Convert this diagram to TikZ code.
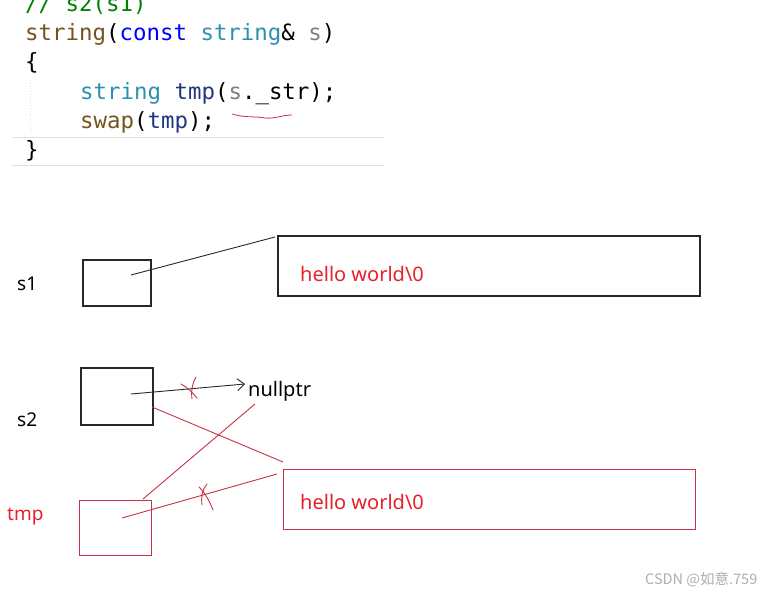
\documentclass[tikz,border=0pt]{standalone}
\usepackage{fontspec}
\setmainfont{Noto Sans}
\setmonofont{DejaVu Sans Mono}
\newfontfamily\cjk{Noto Sans CJK SC}
\usetikzlibrary{arrows.meta,calc}
\definecolor{cgreen}{RGB}{0,128,0}
\definecolor{cbrown}{RGB}{116,83,31}
\definecolor{cblue}{RGB}{0,0,255}
\definecolor{cteal}{RGB}{43,145,175}
\definecolor{cgray}{RGB}{128,128,128}
\definecolor{cvar}{RGB}{31,55,127}
\definecolor{penred}{RGB}{200,50,70}
\definecolor{txtred}{RGB}{232,32,42}
\definecolor{penblack}{RGB}{40,40,40}
\definecolor{guide}{RGB}{225,225,225}
\tikzset{
  code/.style={anchor=base west, inner sep=0pt, font=\ttfamily\fontsize{22.4}{24}\selectfont},
  lbl/.style={anchor=base west, inner sep=0pt, font=\fontsize{19}{22}\selectfont},
  hello/.style={anchor=base west, inner sep=0pt, text=txtred, font=\fontsize{20}{22}\selectfont},
  blackbox/.style={draw=penblack, line width=1.1pt, inner sep=0pt},
  redbox/.style={draw=penred, line width=1pt, inner sep=0pt},
  blackline/.style={draw=penblack, line width=0.9pt},
  redline/.style={draw=penred, line width=0.9pt},
  xmark/.style={draw=penred, line width=0.9pt, line cap=round},
}
\begin{document}
\begin{tikzpicture}[x=1pt,y=-1pt]
\useasboundingbox[fill=white] (0,0) rectangle (766,592);
% code
\node[code, text=cgreen] (cmt) at (25,11) {// s2(s1)};
\node[code] (l1) at (25,40) {\textcolor{cbrown}{string}(\textcolor{cblue}{const} \textcolor{cteal}{string}\& \textcolor{cgray}{s})};
\node[code] (l2) at (25,69) {\{};
\node[code] (l3) at (80,99) {\textcolor{cteal}{string} \textcolor{cvar}{tmp}(\textcolor{cgray}{s}.\_str);};
\node[code] (l4) at (80,128) {\textcolor{cbrown}{swap}(\textcolor{cvar}{tmp});};
\node[code] (l5) at (25,157) {\}};
\draw[guide, line width=1pt] (12,137) -- (384,137);
\draw[guide, line width=1pt] (12,165) -- (384,165);
\draw[guide, line width=0.8pt, dotted] (30,80) -- (30,135);
\draw[penred, line width=0.8pt] (232,114) .. controls (245,118) and (255,116) .. (265,118) .. controls (275,119) and (282,115) .. (292,115);
% labels
\node[lbl] (s1l) at (17,290) {s1};
\node[lbl] (s2l) at (17,426) {s2};
\node[lbl, text=txtred] (tmpl) at (7,520) {tmp};
% boxes
\node[blackbox, minimum width=68pt, minimum height=46pt] (s1box) at (117,283) {};
\node[blackbox, minimum width=72pt, minimum height=57pt] (s2box) at (117,396.5) {};
\node[redbox, minimum width=72pt, minimum height=55pt] (tmpbox) at (115,527.5) {};
\node[blackbox, minimum width=422pt, minimum height=60pt] (h1box) at (489,266) {};
\node[redbox, minimum width=412pt, minimum height=60pt] (h2box) at (489,499) {};
\node[hello] (h1) at (300,281) {hello world\textbackslash 0};
\node[hello] (h2) at (300,509) {hello world\textbackslash 0};
\node[anchor=base west, inner sep=0pt, font=\fontsize{20}{22}\selectfont] (np) at (248,396) {nullptr};
% anchor points
\coordinate (s1p) at (131,275);
\coordinate (h1p) at (275,237);
\coordinate (s2p) at (131,394);
\coordinate (npp) at (245,384);
\coordinate (s2r) at (152,407);
\coordinate (h2p) at (283,462);
\coordinate (tmpt) at (143,499);
\coordinate (npb) at (255,404);
\coordinate (tmpp) at (122,518);
\coordinate (h2q) at (277,474);
% connectors
\draw[blackline] (s1p) -- (h1p);
\draw[blackline, -{Straight Barb[length=7pt,width=12pt]}] (s2p) -- (npp);
\draw[redline] (s2r) -- (h2p);
\draw[redline] (tmpt) -- (npb);
\draw[redline] (tmpp) -- (h2q);
% cross marks
\draw[xmark] (181,384) .. controls (188,388) and (192,392) .. (197,398);
\draw[xmark] (196,377) .. controls (192,384) and (191,391) .. (192,399);
\draw[xmark] (199,487) .. controls (205,493) and (209,500) .. (213,510);
\draw[xmark] (207,484) .. controls (202,490) and (201,497) .. (202,505);
% watermark
\node[anchor=base west, inner sep=0pt, text={rgb,255:red,175;green,175;blue,175}, font=\cjk\fontsize{14.5}{16}\selectfont] (wm) at (645,584) {CSDN @如意.759};
\end{tikzpicture}
\end{document}
